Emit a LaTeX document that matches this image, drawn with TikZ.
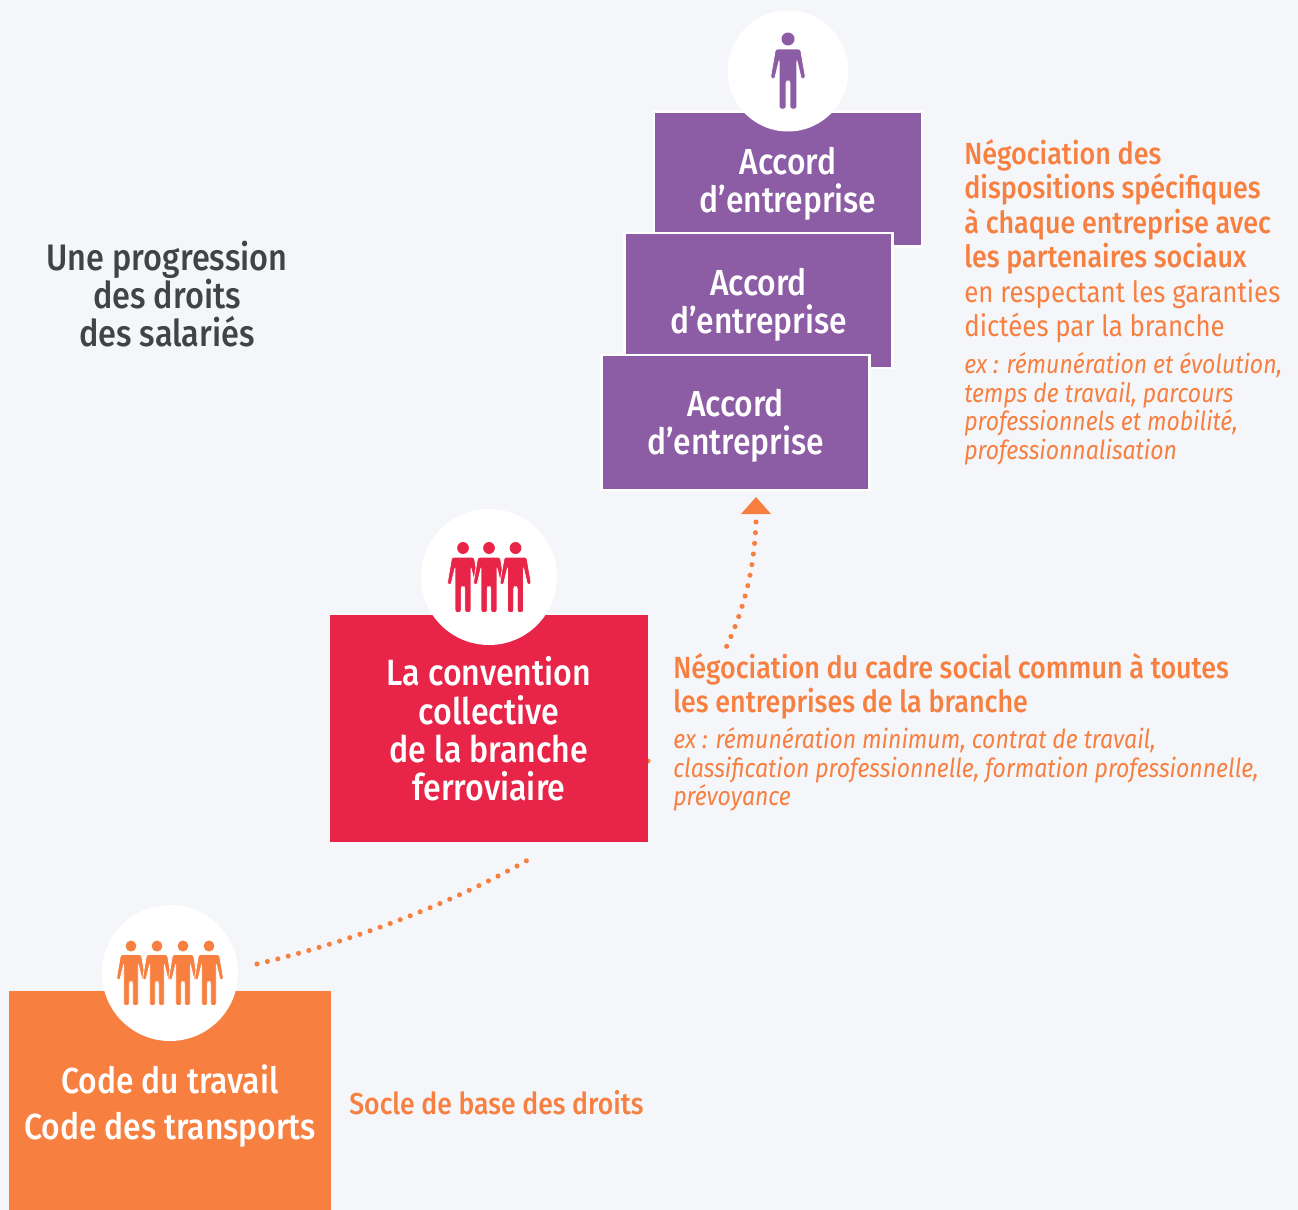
\documentclass[tikz,border=0pt]{standalone}
\usepackage{fontspec}
\setmainfont{Fira Sans}[FakeStretch=0.88,BoldFont={Fira Sans Medium},ItalicFont={Fira Sans Italic}]
\usetikzlibrary{calc,positioning}
\definecolor{bgcol}{HTML}{F4F6FA}
\definecolor{basecol}{HTML}{F77F40}
\definecolor{convcol}{HTML}{E82548}
\definecolor{firmcol}{HTML}{8C5DA5}
\definecolor{titlecol}{HTML}{3F4447}
\tikzset{
  person/.pic={
    \path[pic actions] (0,0) circle (6.5);
    \path[pic actions,draw=white,line width=0.4pt,rounded corners=1.2pt] (-12.5,10) -- (12.5,10) -- (17.5,39) -- (13.5,40.5) -- (8.8,21) -- (8.8,70) -- (2,70) -- (2,42) -- (-2,42) -- (-2,70) -- (-8.8,70) -- (-8.8,21) -- (-13.5,40.5) -- (-17.5,39) -- cycle;
  },
  whitedisc/.style={circle,fill=white,inner sep=0pt},
  firmbox/.style={draw=white,line width=1.2pt,fill=firmcol,minimum width=268\unit,minimum height=135\unit,inner sep=0pt},
  boxlabel/.style={inner sep=0pt,align=center,text=white,font=\fontsize{20.6}{21.8}\selectfont\bfseries},
  sidetext/.style={anchor=north west,inner sep=0pt,align=left,text=basecol},
  dotline/.style={draw=basecol,line width=2.9pt,line cap=round,dash pattern=on 0pt off 6.1pt},
}
\newlength{\unit}
\setlength{\unit}{0.02cm}
\begin{document}
\begin{tikzpicture}[x=0.02cm,y=-0.02cm]
\fill[bgcol] (0,0) rectangle (1298,1210);
\useasboundingbox (0,0) rectangle (1298,1210);
% title
\node[boxlabel,text=titlecol,font=\fontsize{21}{21.8}\selectfont\bfseries] (title) at (167,294) {Une progression\\des droits\\des salariés};
% top stack
\node[firmbox] (firmback) at (788,179) {};
\node[boxlabel] (firmbacktext) at (788,184) {Accord\\d’entreprise};
\node[whitedisc,minimum size=121\unit] (firmdisc) at (788,71) {};
\pic[fill=firmcol] at (788,39) {person};
\node[firmbox] (firmmid) at (758.5,300.5) {};
\node[boxlabel] (firmmidtext) at (758.5,304.5) {Accord\\d’entreprise};
\node[firmbox] (firmfront) at (735.5,422.5) {};
\node[boxlabel] (firmfronttext) at (735.5,425.5) {Accord\\d’entreprise};
\node[sidetext,font=\fontsize{17.4}{19.6}\selectfont\bfseries] (firmhead) at (964,139) {Négociation des\\dispositions spécifiques\\à chaque entreprise avec\\les partenaires sociaux};
\node[sidetext,font=\fontsize{16.7}{19.6}\selectfont] (firmnote) at (964,279) {en respectant les garanties\\dictées par la branche};
\node[sidetext,font=\fontsize{14.9}{16.4}\selectfont\itshape] (firmex) at (964,352) {ex : rémunération et évolution,\\temps de travail, parcours\\professionnels et mobilité,\\professionnalisation};
% arrow to the stack
\coordinate (tipbase) at (756,514);
\coordinate (tipstart) at (756,522);
\coordinate (tipend) at (725,650);
\fill[basecol] (tipbase) ++(-15,0) -- ++(15,-17) -- ++(15,17) -- cycle;
\draw[dotline] (tipstart) .. controls (754,570) and (745,607) .. (tipend);
% convention block
\fill[basecol] (648,761) circle (2.5);
\node[fill=convcol,minimum width=318\unit,minimum height=227\unit,inner sep=0pt] (convbox) at (489,728.5) {};
\node[boxlabel,font=\fontsize{20.8}{21.8}\selectfont\bfseries] (convtext) at (489,729) {La convention\\collective\\de la branche\\ferroviaire};
\node[whitedisc,minimum size=136\unit] (convdisc) at (489,577) {};
\foreach \hx in {463,489,515.5}
  \pic[fill=convcol,xscale=0.9,yscale=0.92] at (\hx,548) {person};
\node[sidetext,font=\fontsize{17.4}{19.6}\selectfont\bfseries] (convhead) at (673,653) {Négociation du cadre social commun à toutes\\les entreprises de la branche};
\node[sidetext,font=\fontsize{14.9}{16.4}\selectfont\itshape] (convex) at (673,727) {ex : rémunération minimum, contrat de travail,\\classification professionnelle, formation professionnelle,\\prévoyance};
% base block
\coordinate (linkstart) at (257,964);
\coordinate (linkend) at (533,857);
\draw[dotline] (linkstart) .. controls (350,942) and (450,905) .. (linkend);
\node[fill=basecol,minimum width=322\unit,minimum height=219\unit,inner sep=0pt] (basebox) at (170,1100.5) {};
\node[boxlabel,font=\fontsize{20.6}{26}\selectfont\bfseries] (basetext) at (170,1106) {Code du travail\\Code des transports};
\node[whitedisc,minimum size=136\unit] (basedisc) at (170,973) {};
\foreach \hx in {131,157,183,209}
  \pic[fill=basecol,xscale=0.83,yscale=0.85] at (\hx,946) {person};
\node[sidetext,font=\fontsize{17.2}{19.6}\selectfont\bfseries] (basenote) at (349,1090) {Socle de base des droits};
\end{tikzpicture}
\end{document}
